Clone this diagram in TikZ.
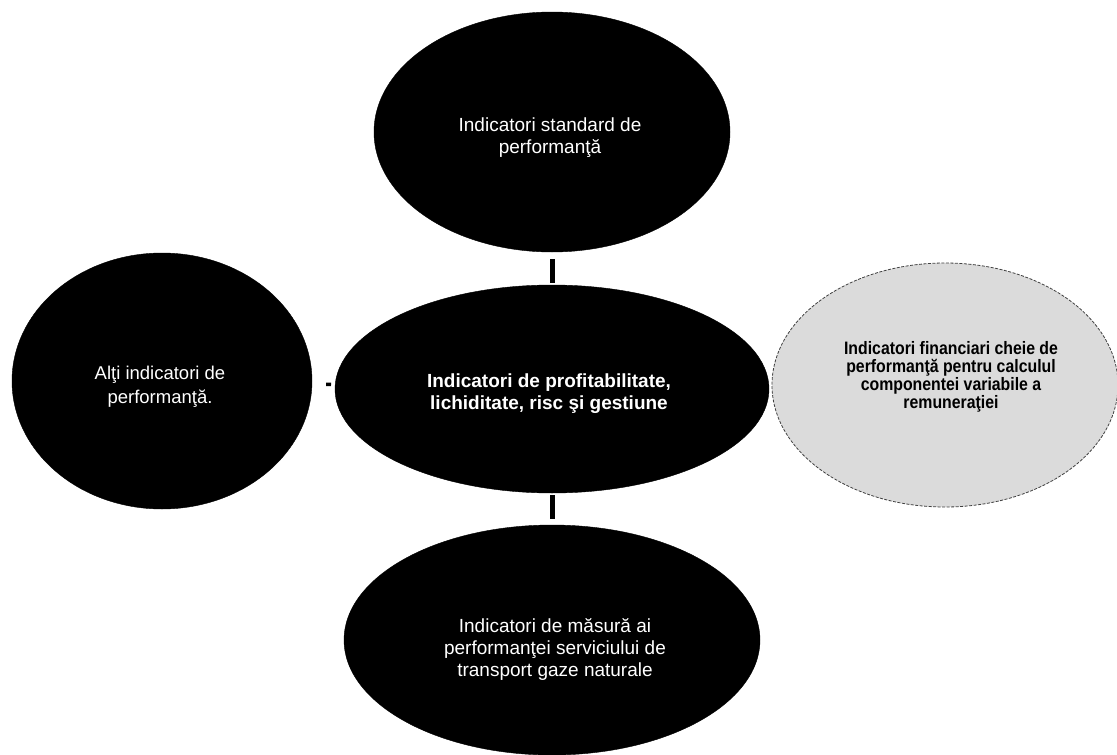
\documentclass[tikz,border=0pt]{standalone}
\usepackage{fontspec}
\setmainfont{Liberation Sans}
\newfontfamily\narrowfont[FakeStretch=0.88]{Liberation Sans}
\usetikzlibrary{shapes.geometric}
\begin{document}
\begin{tikzpicture}[x=1pt,y=-1pt,
  blob/.style={ellipse, fill=black, draw=black, inner sep=0pt},
  grayblob/.style={ellipse, fill=black!14, draw=black!75, line width=0.8pt, dash pattern=on 3pt off 1.5pt, inner sep=0pt},
  wtext/.style={text=white, align=center, inner sep=0pt, font=\fontsize{19}{22}\selectfont},
  btext/.style={text=white, align=center, inner sep=0pt, font=\fontsize{19}{22}\selectfont\bfseries},
  ntext/.style={text=black, align=center, inner sep=0pt, font=\narrowfont\fontsize{18}{18}\selectfont\bfseries},
  link/.style={line width=5pt}]
\useasboundingbox[fill=white] (0,0) rectangle (1117,755);
\node[blob, minimum width=356pt, minimum height=240pt] (top) at (552,132) {};
\node[blob, minimum width=434pt, minimum height=208pt] (center) at (552,389) {};
\node[blob, minimum width=300pt, minimum height=256pt] (left) at (162,381) {};
\node[blob, minimum width=416pt, minimum height=230pt] (bottom) at (552,640) {};
\node[grayblob, minimum width=346pt, minimum height=244pt] (right) at (945,385) {};
\node[wtext] (ttop) at (550,138) {Indicatori standard de\\performanţă};
\node[btext] (tcenter) at (549,394) {Indicatori de profitabilitate,\\lichiditate, risc şi gestiune};
\node[wtext, font=\fontsize{18.5}{24}\selectfont] (tleft) at (160,387) {Alţi indicatori de\\performanţă.};
\node[wtext] (tbottom) at (555,649) {Indicatori de măsură ai\\performanţei serviciului de\\transport gaze naturale};
\node[ntext] (tright) at (951,377) {Indicatori financiari cheie de\\performanţă pentru calculul\\componentei variabile a\\remuneraţiei};
\draw[link, shorten <=7pt, shorten >=2pt] (top) -- (center);
\draw[link, shorten <=2pt, shorten >=6pt] (center) -- (bottom);
\draw[line width=3.5pt, shorten <=14pt, shorten >=4pt] (left) -- (center);
\end{tikzpicture}
\end{document}
